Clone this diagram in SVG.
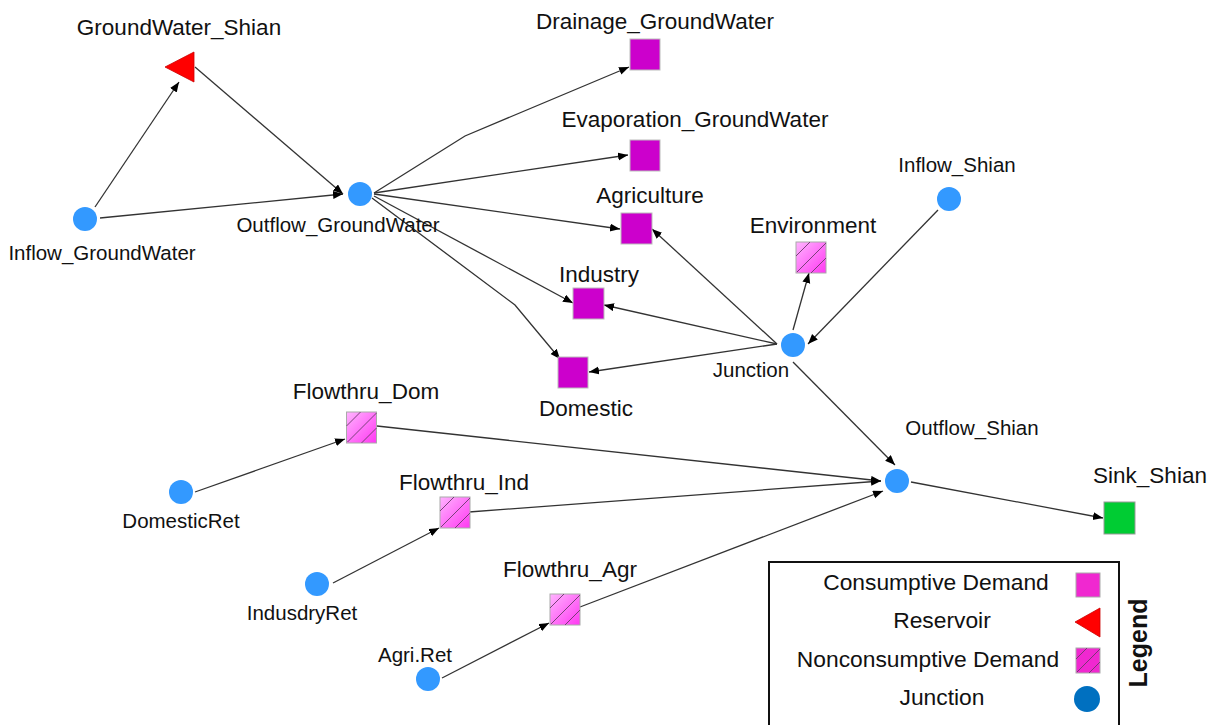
<svg xmlns="http://www.w3.org/2000/svg" width="1208" height="725" viewBox="0 0 1208 725">
  <style>
    .lbl { font-family: "Liberation Sans", Arial, sans-serif; fill: #111; text-anchor: middle; }
    .big { font-size: 22.5px; }
    .sm { font-size: 20.5px; }
    .leg { font-family: "Liberation Sans", Arial, sans-serif; font-size: 22.8px; fill: #111; text-anchor: middle; }
    .edge { fill: none; stroke: #333; stroke-width: 1.3; marker-end: url(#arrow); }
    .junc { fill: #3399FF; }
    .cons { fill: #CC00CC; stroke: #bbb; stroke-width: 1; }
    .hatch { stroke: #6a3a6a; stroke-width: 0.9; }
  </style>
  <defs>
    <marker id="arrow" markerUnits="userSpaceOnUse" markerWidth="11" markerHeight="9" refX="10" refY="4" orient="auto">
      <path d="M0,0 L10,4 L0,8 z" fill="#000"/>
    </marker>
    <linearGradient id="ncGrad" x1="0" y1="0" x2="1" y2="1">
      <stop offset="0" stop-color="#FFB4FF"/>
      <stop offset="1" stop-color="#FF38F2"/>
    </linearGradient>
    <!-- nonconsumptive demand: gradient square with diagonal hatching -->
    <symbol id="ncDemand" viewBox="0 0 30 31" overflow="visible">
      <rect x="0" y="0" width="30" height="31" fill="url(#ncGrad)" stroke="#aaa" stroke-width="1"/>
      <line class="hatch" x1="0" y1="14" x2="14" y2="0"/>
      <line class="hatch" x1="1" y1="30" x2="30" y2="1"/>
      <line class="hatch" x1="15" y1="31" x2="30" y2="16"/>
    </symbol>
  </defs>

  <rect width="1208" height="725" fill="#fff"/>

  <!-- connectors -->
  <g id="connectors">
    <line class="edge" x1="95" y1="207" x2="179" y2="82"/>
    <line class="edge" x1="195" y1="67" x2="343" y2="194"/>
    <line class="edge" x1="100" y1="218" x2="343" y2="194"/>
    <polyline class="edge" points="374,193 465,136 629,67"/>
    <line class="edge" x1="374" y1="193" x2="628" y2="155"/>
    <line class="edge" x1="374" y1="194" x2="620" y2="229"/>
    <line class="edge" x1="374" y1="196" x2="573" y2="303"/>
    <polyline class="edge" points="372,198 515,305 560,359"/>
    <line class="edge" x1="777" y1="344" x2="652" y2="229"/>
    <line class="edge" x1="777" y1="344" x2="604" y2="305"/>
    <line class="edge" x1="777" y1="344" x2="589" y2="372"/>
    <line class="edge" x1="793" y1="330" x2="809" y2="273"/>
    <line class="edge" x1="938" y1="210" x2="808" y2="344"/>
    <line class="edge" x1="793" y1="362" x2="895" y2="465"/>
    <line class="edge" x1="377" y1="426" x2="881" y2="481"/>
    <line class="edge" x1="469" y1="512" x2="881" y2="481"/>
    <line class="edge" x1="580" y1="607" x2="883" y2="491"/>
    <line class="edge" x1="195" y1="492" x2="345" y2="439"/>
    <line class="edge" x1="333" y1="583" x2="439" y2="528"/>
    <line class="edge" x1="442" y1="678" x2="549" y2="623"/>
    <line class="edge" x1="911" y1="482" x2="1103" y2="518"/>
  </g>

  <!-- nodes -->
  <g id="node-inflow-groundwater">
    <circle class="junc" cx="85" cy="219" r="12"/>
    <text class="lbl sm" x="102" y="260">Inflow_GroundWater</text>
  </g>
  <g id="node-groundwater-shian">
    <polygon points="165,67 194,52 194,82" fill="#FF0000" stroke="#c00" stroke-width="0.8"/>
    <text class="lbl big" x="179" y="35">GroundWater_Shian</text>
  </g>
  <g id="node-outflow-groundwater">
    <circle class="junc" cx="360" cy="194" r="12"/>
    <text class="lbl sm" x="338" y="232">Outflow_GroundWater</text>
  </g>
  <g id="node-drainage-groundwater">
    <rect class="cons" x="630" y="39" width="30" height="31"/>
    <text class="lbl big" x="655" y="29">Drainage_GroundWater</text>
  </g>
  <g id="node-evaporation-groundwater">
    <rect class="cons" x="630" y="140" width="30" height="31"/>
    <text class="lbl big" x="695" y="127">Evaporation_GroundWater</text>
  </g>
  <g id="node-agriculture">
    <rect class="cons" x="621" y="213" width="31" height="31"/>
    <text class="lbl big" x="650" y="203">Agriculture</text>
  </g>
  <g id="node-industry">
    <rect class="cons" x="573" y="288" width="31" height="31"/>
    <text class="lbl big" x="599" y="282">Industry</text>
  </g>
  <g id="node-domestic">
    <rect class="cons" x="558" y="357" width="30" height="31"/>
    <text class="lbl big" x="586" y="416">Domestic</text>
  </g>
  <g id="node-environment">
    <use href="#ncDemand" x="796" y="242" width="30" height="31"/>
    <text class="lbl big" x="813" y="233">Environment</text>
  </g>
  <g id="node-inflow-shian">
    <circle class="junc" cx="949" cy="199" r="12"/>
    <text class="lbl sm" x="957" y="172">Inflow_Shian</text>
  </g>
  <g id="node-junction">
    <circle class="junc" cx="793" cy="345" r="12"/>
    <text class="lbl sm" x="751" y="377">Junction</text>
  </g>
  <g id="node-outflow-shian">
    <circle class="junc" cx="897" cy="481" r="12"/>
    <text class="lbl sm" x="972" y="435">Outflow_Shian</text>
  </g>
  <g id="node-sink-shian">
    <rect x="1104" y="502" width="31" height="32" fill="#00CC33" stroke="#999" stroke-width="1"/>
    <text class="lbl big" x="1150" y="483">Sink_Shian</text>
  </g>
  <g id="node-flowthru-dom">
    <use href="#ncDemand" x="346" y="412" width="31" height="31"/>
    <text class="lbl big" x="366" y="399">Flowthru_Dom</text>
  </g>
  <g id="node-flowthru-ind">
    <use href="#ncDemand" x="440" y="497" width="30" height="31"/>
    <text class="lbl big" x="464" y="490">Flowthru_Ind</text>
  </g>
  <g id="node-flowthru-agr">
    <use href="#ncDemand" x="550" y="594" width="30" height="31"/>
    <text class="lbl big" x="570" y="577">Flowthru_Agr</text>
  </g>
  <g id="node-domesticret">
    <circle class="junc" cx="181" cy="492" r="12"/>
    <text class="lbl sm" x="181" y="528">DomesticRet</text>
  </g>
  <g id="node-indusdryret">
    <circle class="junc" cx="317" cy="584" r="12"/>
    <text class="lbl sm" x="302" y="620">IndusdryRet</text>
  </g>
  <g id="node-agriret">
    <circle class="junc" cx="428" cy="679" r="12"/>
    <text class="lbl sm" x="415" y="662">Agri.Ret</text>
  </g>

  <!-- legend -->
  <g id="legend">
    <rect x="769" y="562" width="350" height="180" fill="#fff" stroke="#111" stroke-width="2"/>
    <text class="leg" x="936" y="590">Consumptive Demand</text>
    <rect x="1076" y="573" width="24" height="24" fill="#F028D0" stroke="#aaa" stroke-width="1"/>
    <text class="leg" x="942" y="628">Reservoir</text>
    <polygon points="1075,622 1100,608 1100,637" fill="#FF0000" stroke="#c00" stroke-width="0.8"/>
    <text class="leg" x="928" y="667">Nonconsumptive Demand</text>
    <rect x="1076" y="648" width="24" height="25" fill="#F028D0" stroke="#aaa" stroke-width="1"/>
    <line class="hatch" x1="1076" y1="659" x2="1087" y2="648"/>
    <line class="hatch" x1="1077" y1="672" x2="1100" y2="649"/>
    <line class="hatch" x1="1089" y1="673" x2="1100" y2="662"/>
    <text class="leg" x="942" y="705">Junction</text>
    <circle cx="1087" cy="699" r="13" fill="#0070C0"/>
    <text x="1147" y="643" transform="rotate(-90 1147 643)" font-family="'Liberation Sans', Arial, sans-serif" font-size="25px" font-weight="bold" fill="#111" text-anchor="middle">Legend</text>
  </g>
</svg>
